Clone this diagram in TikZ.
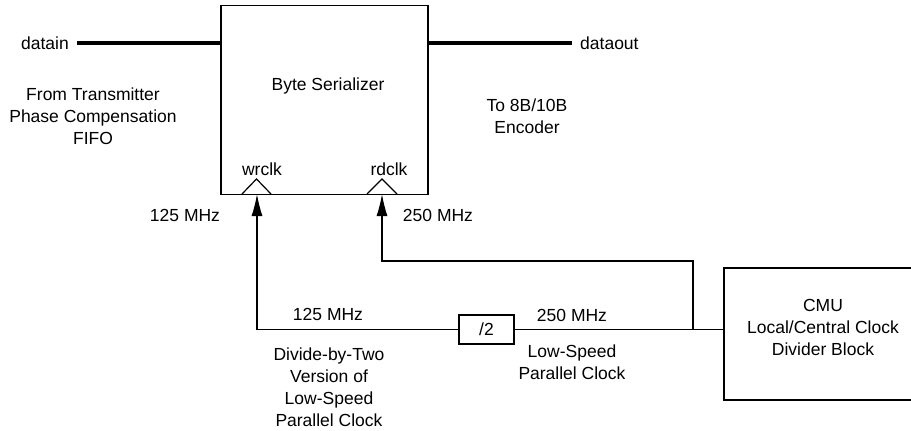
\documentclass[tikz,border=0pt]{standalone}
\usepackage{fontspec}
\setmainfont{Liberation Sans}
\usepackage{tikz}
\usetikzlibrary{arrows.meta}

\begin{document}
\begin{tikzpicture}[x=1pt, y=-1pt,
    font=\fontsize{17.5pt}{22pt}\selectfont,
    box/.style={draw, line width=1.2pt, inner sep=0pt},
    bus/.style={line width=4pt},
    wire/.style={line width=1.2pt},
    clkarrow/.style={wire, -{Latex[length=22pt, width=11pt]}},
    lbl/.style={align=center, inner sep=0pt}]

\clip (0,0) rectangle (911,431);

% blocks
\node[box, minimum width=207pt, minimum height=189pt] (ser) at (324.5,100) {};
\node[lbl] (sertxt) at (328,86) {Byte Serializer};
\node[box, minimum width=55pt, minimum height=29pt] (half) at (486.5,329.5) {/2};
\node[box, minimum width=276pt, minimum height=132pt] (cmu) at (862,334) {};
\node[lbl] (cmutxt) at (823,327) {CMU\\Local/Central Clock\\Divider Block};

% data ports
\node[lbl, anchor=east] (din) at (69,43) {datain};
\node[lbl, anchor=west] (dout) at (580,43) {dataout};
\draw[bus] ([xshift=-8pt]din.east) ++(16pt,0) -- (ser.west |- din);
\draw[bus] (ser.east |- dout) -- ([xshift=-8pt]dout.west);

\node[lbl] (from) at (93,116) {From Transmitter\\Phase Compensation\\FIFO};
\node[lbl] (to) at (527,116) {To 8B/10B\\Encoder};

% clock inputs
\coordinate (wr) at (257,194);
\coordinate (rd) at (382,194);
\draw[wire] (242,194) -- (256.5,179) -- (271,194);
\draw[wire] (367,194) -- (382,179) -- (397,194);
\node[lbl] (wrlbl) at (262,169) {wrclk};
\node[lbl] (rdlbl) at (389,169) {rdclk};

% clock wiring
\coordinate (tap) at (693,329);
\draw[wire] (cmu.west |- half) -- (half.east);
\draw[clkarrow] (half.west) -| (wr);
\draw[clkarrow] (tap) -- (693,261) -| (rd);

\node[lbl] at (185,215) {125 MHz};
\node[lbl] at (438,215) {250 MHz};
\node[lbl] at (328,314) {125 MHz};
\node[lbl] at (572,315) {250 MHz};
\node[lbl] (divtxt) at (329,387) {Divide-by-Two\\Version of\\Low-Speed\\Parallel Clock};
\node[lbl] (lstxt) at (572,362) {Low-Speed\\Parallel Clock};

\end{tikzpicture}
\end{document}
